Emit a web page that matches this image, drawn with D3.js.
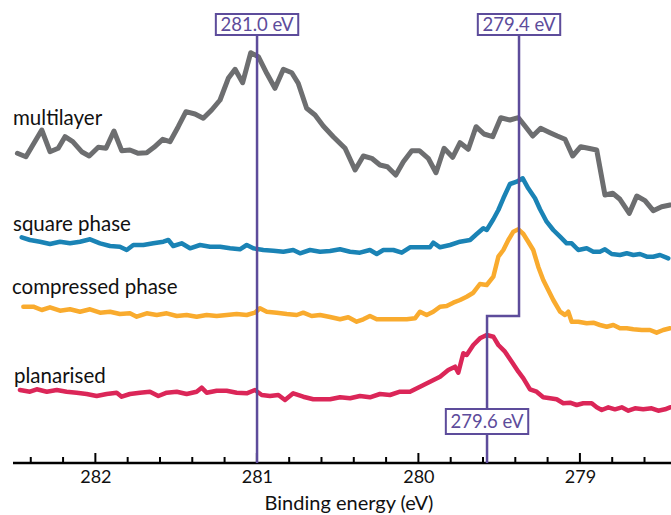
<!DOCTYPE html>
<html><head><meta charset="utf-8">
<script src="https://cdn.jsdelivr.net/npm/d3@7"></script>
<style>body{margin:0;background:#fff}svg{display:block}</style>
</head><body>
<svg id="chart" width="671" height="515"></svg>
<script>
// ---------- DATA ----------
const seriesNames = ["multilayer", "square phase", "compressed phase", "planarised"];

const multilayerE = [282.483,282.430,282.332,282.281,282.230,282.188,282.140,282.085,282.038,281.982,281.934,281.885,281.837,281.786,281.734,281.682,281.637,281.583,281.538,281.487,281.439,281.383,281.332,281.280,281.228,281.177,281.135,281.088,281.038,280.991,280.939,280.888,280.836,280.784,280.744,280.692,280.640,280.589,280.527,280.454,280.392,280.341,280.289,280.238,280.192,280.140,280.093,280.041,279.994,279.939,279.891,279.841,279.788,279.742,279.691,279.643,279.594,279.540,279.490,279.433,279.381,279.340,279.292,279.243,279.185,279.140,279.092,279.045,278.995,278.948,278.896,278.845,278.797,278.752,278.694,278.648,278.597,278.546,278.494,278.442];
const multilayerI = [309.7,306.3,333,311.3,314.7,326.3,321.3,311.3,307,315.7,314.7,332,312.3,313,309.7,310.3,315.7,323.7,321.3,336.3,351.3,349,344.7,353,363,384.7,393.7,380.3,410.3,406.3,389.7,374.7,393.7,390.3,379.7,354.7,348,337,326.3,314.7,293,307,304.7,298,296.3,288,301.3,312.3,312.3,304.7,290.3,314.7,305.7,320.3,313.7,336.3,329,326.3,345.3,343,345.3,337,327,334.7,330.3,327,323.7,307,316.3,314.7,313,268,269.7,263.7,249.7,267,262.3,252.3,256.3,258];

const squareE = [282.456,282.405,282.343,282.281,282.219,282.157,282.095,282.033,281.971,281.909,281.848,281.806,281.765,281.703,281.641,281.579,281.548,281.518,281.466,281.414,281.352,281.290,281.228,281.166,281.105,281.063,281.022,280.960,280.898,280.836,280.775,280.733,280.671,280.609,280.547,280.485,280.423,280.362,280.300,280.258,280.217,280.155,280.103,280.052,279.990,279.928,279.908,279.866,279.804,279.742,279.680,279.639,279.598,279.577,279.536,279.505,279.474,279.433,279.391,279.354,279.320,279.278,279.247,279.206,279.165,279.123,279.082,279.051,279.010,278.958,278.917,278.876,278.845,278.803,278.752,278.710,278.669,278.628,278.586,278.546,278.504,278.453];
const squareI = [225.7,223,221.3,219,221.3,219.7,221.3,223.7,219.7,217,216.3,213,218,218,219.7,221.3,223,217,219.7,214.7,218,216.3,216.3,214.7,213.7,218,214.7,213,212.3,211.3,213,209.7,213,211.3,212,213.7,211.3,210.3,213,209,213,213,210.3,215.7,215.7,215.7,220.3,215.7,218,221.3,223,229,234.7,233,243.7,253,264.7,279,281.3,284.7,274.7,264.7,253.7,241.3,233,226.3,219.7,219.7,213,214.7,211.3,211.3,213.7,209,208,209.7,208,209,206.3,206.3,208,204.7];

const compressedE = [282.446,282.384,282.332,282.281,282.219,282.157,282.095,282.033,281.971,281.909,281.848,281.786,281.744,281.682,281.620,281.558,281.496,281.435,281.373,281.311,281.249,281.187,281.125,281.063,281.012,280.981,280.939,280.877,280.815,280.753,280.713,280.661,280.609,280.547,280.485,280.434,280.382,280.341,280.300,280.258,280.196,280.134,280.072,280.021,279.990,279.949,279.908,279.866,279.825,279.784,279.742,279.701,279.660,279.619,279.577,279.536,279.505,279.474,279.443,279.412,279.381,279.350,279.320,279.289,279.258,279.227,279.196,279.165,279.123,279.092,279.072,279.051,279.010,278.958,278.917,278.876,278.834,278.793,278.752,278.710,278.669,278.617,278.566,278.525,278.484,278.442];
const compressedI = [156.3,156.3,153,155.7,152.3,153.7,151.3,153.7,150.3,151.3,149,149.7,146.3,149.7,148,149.7,147,148,146.3,148,147,148,149,148,150.3,154.7,151.3,150.3,149,148,150.3,147,148,146,143.7,145.7,141.3,143.7,147,143.7,143.7,143.7,143.7,144.7,151.3,148,151.3,156.3,157,160.3,163,166.3,170.3,179,178,186.3,206.3,213,223,231.3,233.7,229,221.3,213,196.3,183,173,163,151.3,148,151.3,141.3,141.3,139.7,140.3,138,136.3,138,134.7,134.7,133.7,133,133,130.3,133,134.7];

const planarisedE = [282.467,282.405,282.363,282.301,282.239,282.178,282.116,282.054,281.992,281.930,281.868,281.837,281.786,281.724,281.662,281.610,281.558,281.496,281.435,281.373,281.342,281.311,281.249,281.187,281.125,281.063,281.012,280.970,280.919,280.867,280.826,280.775,280.713,280.651,280.589,280.547,280.485,280.423,280.362,280.300,280.238,280.176,280.114,280.052,279.990,279.928,279.866,279.815,279.773,279.753,279.722,279.701,279.660,279.619,279.577,279.536,279.505,279.464,279.422,279.381,279.350,279.309,279.268,279.227,279.185,279.144,279.103,279.061,279.020,278.979,278.927,278.896,278.865,278.824,278.783,278.741,278.700,278.659,278.608,278.556,278.515,278.473,278.442];
const planarisedI = [73,71.3,73.7,71.3,73,71.3,70.3,69,67,69,70.3,66.3,69,70.3,71.3,67,70.3,71.3,69,71.3,75.3,70.3,72.3,72.3,70.3,69.7,73,68,67,68,63,69.7,66.3,63.7,63.7,63.7,65.7,64.7,67,65.7,69,68,71.3,71.3,76.3,81.3,86.3,93,96.3,90.3,109.7,108,118,124.7,128,126.3,118,111.3,101.3,91.3,84.7,73.7,71.3,65.7,64.7,63.7,59.7,60.3,58,59.7,59.7,55.7,53,55.7,53.7,55.7,52.3,54.7,53.7,54.7,52.3,53.7,55.7];

const majorTicks = [282, 281, 280, 279];
const minorTicks = [282.4,282.2,281.8,281.6,281.4,281.2,280.8,280.6,280.4,280.2,279.8,279.6,279.4,279.2,278.8,278.6];
const markerE = [280.999, 279.377, 279.575];
const markerLabels = ["281.0 eV", "279.4 eV", "279.6 eV"];
const axisTitle = "Binding energy (eV)";

// ---------- LAYOUT / STYLE ----------
const W = 671, H = 515;
const axisY = 463;
const colors = ["#6d6e70", "#1a83b5", "#f9ab2e", "#db2658"];
const widths = [5, 4.5, 4.5, 4.5];
const purple = "#5d4c9b";
const font = "Lato, 'Open Sans', sans-serif";

const x = d3.scaleLinear().domain([282.51, 278.436]).range([13, 671]);
const y = d3.scaleLinear().domain([0, 453]).range([axisY, 10]);

const svg = d3.select("#chart");
svg.append("rect").attr("width", W).attr("height", H).attr("fill", "#fff");

const seriesE = [multilayerE, squareE, compressedE, planarisedE];
const seriesI = [multilayerI, squareI, compressedI, planarisedI];
const line = d3.line().x(d => x(d[0])).y(d => y(d[1]));

seriesE.forEach((E, k) => {
  const pts = E.map((e, i) => [e, seriesI[k][i]]);
  svg.append("path").datum(pts)
    .attr("d", line)
    .attr("fill", "none")
    .attr("stroke", colors[k])
    .attr("stroke-width", widths[k])
    .attr("stroke-linejoin", "round")
    .attr("stroke-linecap", "round");
});

// series labels
const labelPos = [[13, 125], [13, 231], [12, 294], [14, 383]];
seriesNames.forEach((n, k) => {
  svg.append("text").attr("x", labelPos[k][0]).attr("y", labelPos[k][1])
    .attr("font-family", font).attr("font-size", 20.5).attr("fill", "#111")
    .text(n);
});

// axis
const axis = d3.axisBottom(x).tickValues(majorTicks).tickSize(0).tickPadding(0).tickFormat(d3.format("d"));
const gAx = svg.append("g").attr("transform", `translate(0,${axisY})`).call(axis);
gAx.select(".domain").remove();
gAx.selectAll("text").attr("font-family", font).attr("font-size", 18).attr("fill", "#111")
  .attr("y", 20).attr("dy", 0);
gAx.append("line").attr("x1", 13).attr("x2", 671).attr("y1", 0).attr("y2", 0).attr("stroke", "#000").attr("stroke-width", 2.5);
gAx.selectAll(".majt").data(majorTicks).enter().append("line")
  .attr("x1", d => x(d)).attr("x2", d => x(d)).attr("y1", 0).attr("y2", -10)
  .attr("stroke", "#000").attr("stroke-width", 2);
gAx.selectAll(".mint").data(minorTicks).enter().append("line")
  .attr("x1", d => x(d)).attr("x2", d => x(d)).attr("y1", 0).attr("y2", -6)
  .attr("stroke", "#000").attr("stroke-width", 2);
svg.append("text").attr("x", 349).attr("y", 510).attr("text-anchor", "middle")
  .attr("font-family", font).attr("font-size", 20).attr("fill", "#111").text(axisTitle);

// marker lines
const x0 = x(markerE[0]), x1 = x(markerE[1]), x2 = x(markerE[2]);
const topBoxY = 14, boxH = 21, lowBoxY = 409, lowBoxH = 25, stepY = 316;
const pg = svg.append("g").attr("fill", "none").attr("stroke", purple).attr("stroke-width", 2.5);
pg.append("path").attr("d", `M${x0},${topBoxY + boxH}V${axisY}`);
pg.append("path").attr("d", `M${x1},${topBoxY + boxH}V${stepY}H${x2}V${axisY}`);

function box(cx, yTop, h, label) {
  const g = svg.append("g");
  const t = g.append("text").attr("x", cx).attr("y", yTop + h / 2).attr("dy", "0.36em")
    .attr("text-anchor", "middle").attr("font-family", font).attr("font-size", 18.5)
    .attr("fill", purple).text(label);
  const bb = t.node().getBBox();
  g.insert("rect", "text").attr("x", cx - bb.width / 2 - 4.5).attr("y", yTop)
    .attr("width", bb.width + 9).attr("height", h)
    .attr("fill", "#fff").attr("stroke", purple).attr("stroke-width", 2);
}
box(x0, topBoxY, boxH, markerLabels[0]);
box(x1, topBoxY, boxH, markerLabels[1]);
box(x2, lowBoxY, lowBoxH, markerLabels[2]);
</script>
</body></html>
